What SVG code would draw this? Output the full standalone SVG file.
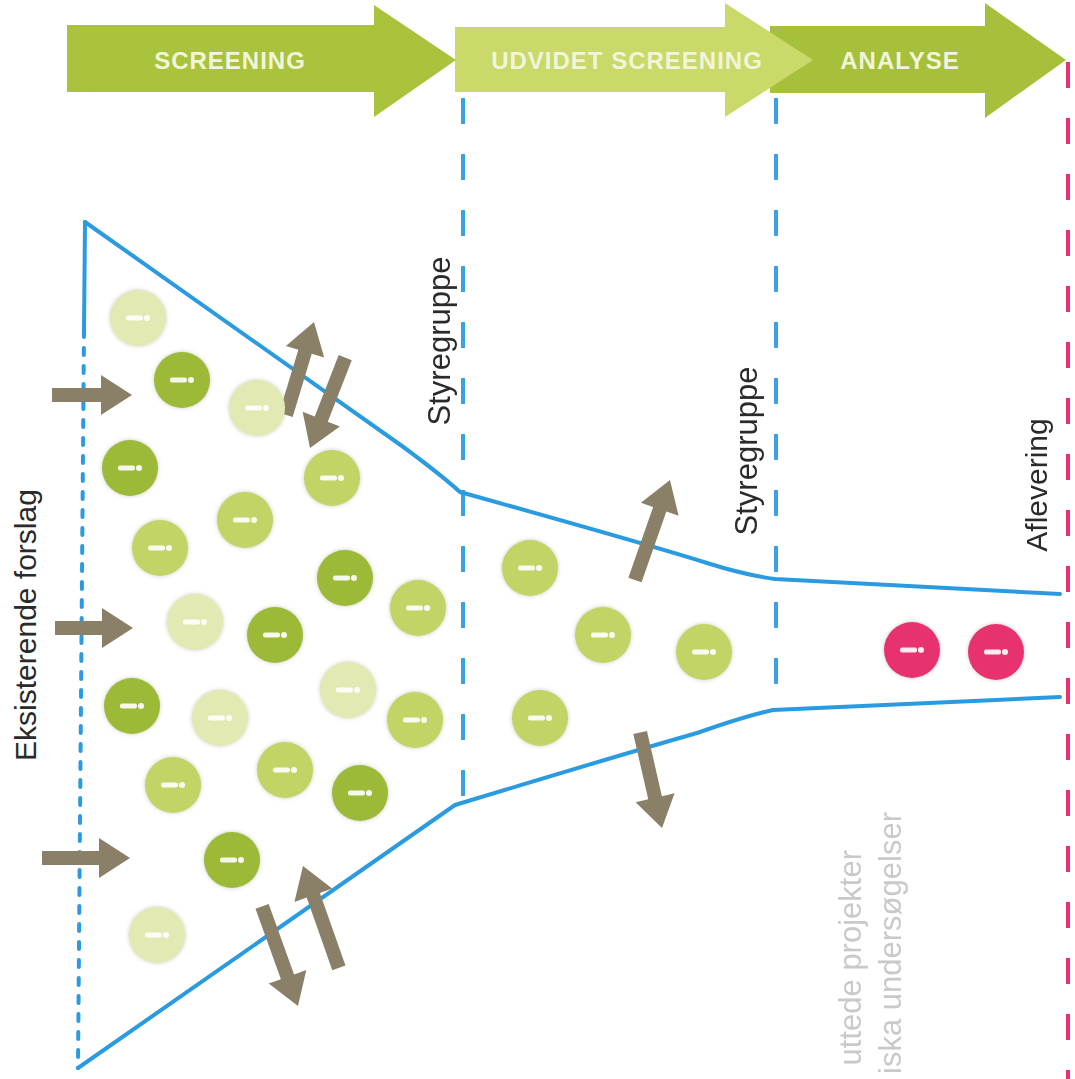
<svg xmlns="http://www.w3.org/2000/svg" width="1075" height="1079" viewBox="0 0 1075 1079">
<style>
.band{stroke:none}
.bandtxt{font-family:"Liberation Sans",Arial,sans-serif;font-weight:bold;font-size:24px;fill:#f1f5da;text-anchor:middle;letter-spacing:1px}
.lbl{font-family:"Liberation Sans",Arial,sans-serif;fill:#2a2a2a;text-anchor:middle}
.ghost{font-family:"Liberation Sans",Arial,sans-serif;fill:#c9c9c9;font-size:31px;text-anchor:end}
.funnel{fill:none;stroke:#2a9be0;stroke-width:4;stroke-linejoin:round;stroke-linecap:round}
.vdash{fill:none;stroke:#3aa2e4;stroke-width:4;stroke-dasharray:26 30}
.pdash{fill:none;stroke:#e8336f;stroke-width:4;stroke-dasharray:26 30}
.barrow{fill:#8a8068}
.dark{fill:#9cba37}
.mid{fill:#c3d466}
.light{fill:#e3e9b2}
.pink{fill:#e8336f}
.icon{fill:#ffffff;opacity:0.9}
</style>
<defs>
<filter id="sh" x="-30%" y="-30%" width="160%" height="160%">
<feDropShadow dx="0" dy="0" stdDeviation="2" flood-color="#8a8a70" flood-opacity="0.45"/>
</filter>
<g id="ic">
<rect class="icon" x="-12" y="-2.5" width="17" height="5" rx="2"/>
<circle class="icon" cx="9" cy="0" r="3"/>
</g>
</defs>
<rect width="1075" height="1079" fill="#ffffff"/>

<g id="banner">
<g id="stage-analyse">
<polygon class="band" fill="#a6c03b" points="770,26 985,26 985,3 1066,60 985,118 985,93 770,93"/>
<text class="bandtxt" x="900" y="69">ANALYSE</text>
</g>
<g id="stage-udvidet">
<polygon class="band" fill="#cad969" points="455,27 725,27 725,3 813,60 725,117 725,92 455,92"/>
<text class="bandtxt" x="627" y="69" font-size="25">UDVIDET SCREENING</text>
</g>
<g id="stage-screening">
<polygon class="band" fill="#aac33d" points="67,25 374,25 374,5 456,60 374,117 374,92 67,92"/>
<text class="bandtxt" x="230" y="69" font-size="25">SCREENING</text>
</g>
</g>

<g id="connectors">
<line class="vdash" x1="463" y1="98" x2="463" y2="805"/>
<line class="vdash" x1="776" y1="98" x2="776" y2="710"/>
<line class="pdash" x1="1068" y1="62" x2="1068" y2="1079"/>
<path class="funnel" d="M85,222 L402,446 Q440,474 460,492 Q650,545 707,563 Q745,575 775,579 L1060,594"/>
<path class="funnel" d="M78,1068 L455,805 Q620,755 697,733 Q745,716 773,710 L1060,697"/>
<line class="funnel" x1="85" y1="222" x2="84" y2="330"/>
<line class="funnel" x1="84" y1="330" x2="78" y2="1068" stroke-dasharray="7 11" stroke-width="3"/>

<g id="in-arrows">
<path class="barrow" transform="translate(132,395)" d="M0,0 L-31,-20 L-31,-7 L-80,-7 L-80,7 L-31,7 L-31,20 Z"/>
<path class="barrow" transform="translate(133,628)" d="M0,0 L-31,-20 L-31,-7 L-78,-7 L-78,7 L-31,7 L-31,20 Z"/>
<path class="barrow" transform="translate(130,858)" d="M0,0 L-31,-20 L-31,-7 L-88,-7 L-88,7 L-31,7 L-31,20 Z"/>
</g>
<g id="exchange-arrows">
<path class="barrow" transform="translate(314,322) rotate(-73.2)" d="M0,0 L-31,-20 L-31,-7 L-97,-7 L-97,7 L-31,7 L-31,20 Z"/>
<path class="barrow" transform="translate(310,448) rotate(111.3)" d="M0,0 L-31,-20 L-31,-7 L-97,-7 L-97,7 L-31,7 L-31,20 Z"/>
<path class="barrow" transform="translate(670,480) rotate(-70.7)" d="M0,0 L-31,-20 L-31,-7 L-106,-7 L-106,7 L-31,7 L-31,20 Z"/>
<path class="barrow" transform="translate(662,828) rotate(77.1)" d="M0,0 L-31,-20 L-31,-7 L-98,-7 L-98,7 L-31,7 L-31,20 Z"/>
<path class="barrow" transform="translate(303,866) rotate(-109.4)" d="M0,0 L-31,-20 L-31,-7 L-108,-7 L-108,7 L-31,7 L-31,20 Z"/>
<path class="barrow" transform="translate(298,1006) rotate(70.2)" d="M0,0 L-31,-20 L-31,-7 L-106,-7 L-106,7 L-31,7 L-31,20 Z"/>
</g>
</g>

<g id="proposals" filter="url(#sh)">
<g id="c1" transform="translate(138,318)"><circle class="light" r="28"/><use href="#ic"/></g>
<g id="c2" transform="translate(182,380)"><circle class="dark" r="28"/><use href="#ic"/></g>
<g id="c3" transform="translate(257,408)"><circle class="light" r="28"/><use href="#ic"/></g>
<g id="c4" transform="translate(130,468)"><circle class="dark" r="28"/><use href="#ic"/></g>
<g id="c5" transform="translate(332,478)"><circle class="mid" r="28"/><use href="#ic"/></g>
<g id="c6" transform="translate(160,548)"><circle class="mid" r="28"/><use href="#ic"/></g>
<g id="c7" transform="translate(245,520)"><circle class="mid" r="28"/><use href="#ic"/></g>
<g id="c8" transform="translate(345,578)"><circle class="dark" r="28"/><use href="#ic"/></g>
<g id="c9" transform="translate(195,622)"><circle class="light" r="28"/><use href="#ic"/></g>
<g id="c10" transform="translate(418,608)"><circle class="mid" r="28"/><use href="#ic"/></g>
<g id="c11" transform="translate(275,635)"><circle class="dark" r="28"/><use href="#ic"/></g>
<g id="c12" transform="translate(132,706)"><circle class="dark" r="28"/><use href="#ic"/></g>
<g id="c13" transform="translate(220,718)"><circle class="light" r="28"/><use href="#ic"/></g>
<g id="c14" transform="translate(348,690)"><circle class="light" r="28"/><use href="#ic"/></g>
<g id="c15" transform="translate(415,720)"><circle class="mid" r="28"/><use href="#ic"/></g>
<g id="c16" transform="translate(173,785)"><circle class="mid" r="28"/><use href="#ic"/></g>
<g id="c17" transform="translate(285,770)"><circle class="mid" r="28"/><use href="#ic"/></g>
<g id="c18" transform="translate(360,793)"><circle class="dark" r="28"/><use href="#ic"/></g>
<g id="c19" transform="translate(232,860)"><circle class="dark" r="28"/><use href="#ic"/></g>
<g id="c20" transform="translate(157,935)"><circle class="light" r="28"/><use href="#ic"/></g>
<g id="c21" transform="translate(530,568)"><circle class="mid" r="28"/><use href="#ic"/></g>
<g id="c22" transform="translate(603,635)"><circle class="mid" r="28"/><use href="#ic"/></g>
<g id="c23" transform="translate(704,652)"><circle class="mid" r="28"/><use href="#ic"/></g>
<g id="c24" transform="translate(540,718)"><circle class="mid" r="28"/><use href="#ic"/></g>
<g id="c25" transform="translate(912,650)"><circle class="pink" r="28"/><use href="#ic"/></g>
<g id="c26" transform="translate(996,652)"><circle class="pink" r="28"/><use href="#ic"/></g>
</g>

<g id="labels">
<text class="lbl" font-size="30" transform="translate(36,625) rotate(-90)">Eksisterende forslag</text>
<text class="lbl" font-size="31" transform="translate(450,341) rotate(-90)">Styregruppe</text>
<text class="lbl" font-size="31" transform="translate(757,451) rotate(-90)">Styregruppe</text>
<text class="lbl" font-size="30" transform="translate(1047,485) rotate(-90)">Aflevering</text>
<text class="ghost" transform="translate(861,850) rotate(-90)">uttede projekter</text>
<text class="ghost" transform="translate(901,812) rotate(-90)">iska undersøgelser</text>
</g>
</svg>
